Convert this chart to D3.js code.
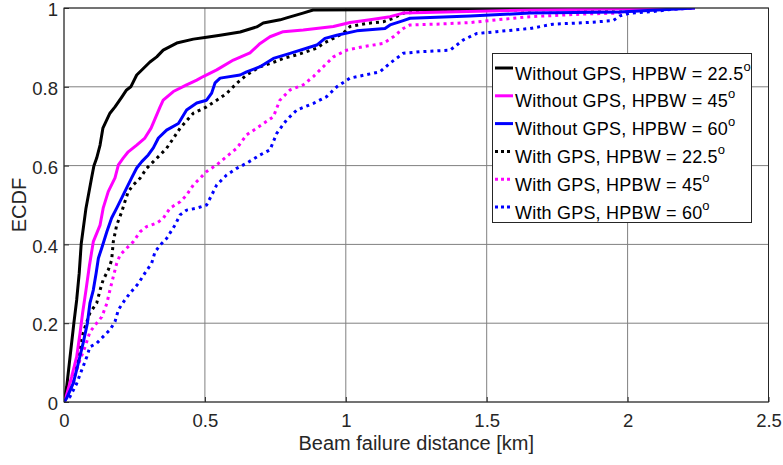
<!DOCTYPE html>
<html>
<head>
<meta charset="utf-8">
<script src="https://cdn.jsdelivr.net/npm/d3@7"></script>
<style>
  body { margin: 0; background: #fff; }
  text { font-family: "Liberation Sans", Arial, sans-serif; }
</style>
</head>
<body>
<div id="chart"></div>
<script>
// ECDF points, [distance km, F(x)]
var noGps225 = [[0, 0], [0.0096, 0.039], [0.035, 0.2], [0.045, 0.259], [0.054, 0.327], [0.061, 0.401],
  [0.078, 0.492], [0.098, 0.569], [0.106, 0.599], [0.116, 0.619], [0.128, 0.652], [0.138, 0.695],
  [0.163, 0.733], [0.181, 0.749], [0.205, 0.774], [0.222, 0.792], [0.237, 0.8], [0.258, 0.83],
  [0.305, 0.863], [0.329, 0.876], [0.352, 0.893], [0.4, 0.911], [0.459, 0.921], [0.506, 0.926],
  [0.554, 0.931], [0.625, 0.939], [0.684, 0.952], [0.707, 0.962], [0.767, 0.97], [0.79, 0.975],
  [0.848, 0.987], [0.884, 0.995], [1.5, 0.997], [2.08, 1.0]]

var noGps45 = [[0, 0], [0.004, 0.005], [0.027, 0.064], [0.045, 0.115], [0.057, 0.175], [0.066, 0.226],
  [0.078, 0.284], [0.09, 0.345], [0.104, 0.407], [0.128, 0.449], [0.139, 0.492], [0.157, 0.534],
  [0.181, 0.569], [0.193, 0.602], [0.21, 0.619], [0.228, 0.635], [0.258, 0.652], [0.287, 0.67],
  [0.309, 0.695], [0.341, 0.749], [0.352, 0.766], [0.388, 0.788], [0.435, 0.805], [0.471, 0.817],
  [0.494, 0.826], [0.542, 0.843], [0.601, 0.868], [0.66, 0.886], [0.696, 0.91], [0.731, 0.927],
  [0.778, 0.94], [0.849, 0.944], [0.956, 0.953], [1.015, 0.963], [1.086, 0.97], [1.157, 0.978],
  [1.204, 0.987], [1.654, 0.995], [2.239, 1.0]]

var noGps60 = [[0, 0], [0.0096, 0.01], [0.033, 0.048], [0.051, 0.099], [0.068, 0.15], [0.083, 0.2],
  [0.092, 0.251], [0.104, 0.284], [0.114, 0.327], [0.122, 0.365], [0.134, 0.391], [0.152, 0.432],
  [0.169, 0.467], [0.187, 0.492], [0.205, 0.518], [0.222, 0.543], [0.24, 0.569], [0.258, 0.594],
  [0.276, 0.61], [0.299, 0.627], [0.317, 0.645], [0.335, 0.67], [0.364, 0.69], [0.406, 0.707],
  [0.435, 0.741], [0.471, 0.759], [0.506, 0.766], [0.524, 0.784], [0.536, 0.81], [0.554, 0.822],
  [0.625, 0.83], [0.648, 0.838], [0.696, 0.851], [0.743, 0.872], [0.802, 0.885], [0.897, 0.906],
  [0.926, 0.923], [0.968, 0.931], [1.039, 0.942], [1.139, 0.948], [1.157, 0.957], [1.204, 0.968],
  [1.228, 0.974], [1.441, 0.98], [1.654, 0.987], [1.973, 0.99], [2.239, 1.0]]

var gps225 = [[0, 0], [0.0096, 0.013], [0.033, 0.048], [0.048, 0.1], [0.057, 0.15], [0.075, 0.191],
  [0.092, 0.226], [0.116, 0.251], [0.128, 0.284], [0.139, 0.31], [0.157, 0.335], [0.169, 0.36],
  [0.175, 0.407], [0.187, 0.449], [0.205, 0.483], [0.216, 0.508], [0.228, 0.534], [0.246, 0.551],
  [0.27, 0.568], [0.293, 0.593], [0.317, 0.61], [0.341, 0.627], [0.364, 0.644], [0.388, 0.669],
  [0.412, 0.695], [0.459, 0.733], [0.506, 0.749], [0.542, 0.766], [0.577, 0.783], [0.613, 0.809],
  [0.648, 0.83], [0.696, 0.851], [0.743, 0.862], [0.778, 0.872], [0.826, 0.881], [0.897, 0.898],
  [0.92, 0.91], [0.956, 0.923], [0.991, 0.936], [1.015, 0.953], [1.074, 0.961], [1.133, 0.965],
  [1.169, 0.974], [1.204, 0.987], [1.323, 0.993], [2.08, 0.998], [2.08, 1.0]]

var gps45 = [[0, 0], [0.0096, 0.013], [0.033, 0.056], [0.057, 0.107], [0.075, 0.14], [0.092, 0.178],
  [0.116, 0.2], [0.134, 0.216], [0.152, 0.25], [0.163, 0.284], [0.175, 0.318], [0.187, 0.352],
  [0.199, 0.373], [0.222, 0.39], [0.246, 0.407], [0.27, 0.432], [0.293, 0.445], [0.329, 0.454],
  [0.352, 0.466], [0.376, 0.492], [0.412, 0.508], [0.435, 0.525], [0.459, 0.551], [0.483, 0.568],
  [0.506, 0.585], [0.542, 0.602], [0.577, 0.623], [0.613, 0.644], [0.648, 0.678], [0.684, 0.695],
  [0.743, 0.724], [0.766, 0.766], [0.802, 0.792], [0.849, 0.805], [0.885, 0.826], [0.92, 0.851],
  [0.956, 0.876], [1.003, 0.893], [1.062, 0.902], [1.133, 0.91], [1.169, 0.927], [1.204, 0.948],
  [1.228, 0.957], [1.323, 0.959], [1.441, 0.963], [1.535, 0.97], [1.654, 0.978], [1.855, 0.985],
  [1.961, 0.987], [1.997, 0.991], [2.09, 0.995], [2.239, 1.0]]

var gps60 = [[0, 0], [0.004, 0.005], [0.021, 0.013], [0.045, 0.047], [0.063, 0.081], [0.081, 0.115],
  [0.092, 0.14], [0.116, 0.149], [0.139, 0.166], [0.163, 0.183], [0.181, 0.204], [0.193, 0.234],
  [0.216, 0.259], [0.234, 0.276], [0.264, 0.301], [0.287, 0.327], [0.311, 0.352], [0.323, 0.381],
  [0.341, 0.398], [0.364, 0.415], [0.394, 0.449], [0.412, 0.475], [0.435, 0.487], [0.471, 0.492],
  [0.506, 0.5], [0.524, 0.525], [0.542, 0.551], [0.577, 0.576], [0.613, 0.593], [0.648, 0.606],
  [0.696, 0.627], [0.731, 0.64], [0.755, 0.682], [0.79, 0.716], [0.826, 0.741], [0.885, 0.758],
  [0.932, 0.775], [0.968, 0.8], [1.015, 0.822], [1.121, 0.838], [1.157, 0.86], [1.204, 0.885],
  [1.263, 0.889], [1.37, 0.893], [1.417, 0.919], [1.464, 0.935], [1.535, 0.94], [1.654, 0.948],
  [1.736, 0.959], [1.855, 0.963], [1.949, 0.968], [1.973, 0.98], [2.008, 0.987], [2.091, 0.991],
  [2.162, 0.997], [2.239, 1.0]]

var seriesNames = ['Without GPS, HPBW = 22.5', 'Without GPS, HPBW = 45', 'Without GPS, HPBW = 60',
  'With GPS, HPBW = 22.5', 'With GPS, HPBW = 45', 'With GPS, HPBW = 60']
var seriesData = [noGps225, noGps45, noGps60, gps225, gps45, gps60]
var seriesColors = ['#000000', '#ff00ff', '#0000ff', '#000000', '#ff00ff', '#0000ff']
var seriesDotted = [false, false, false, true, true, true]

var xTicks = [0, 0.5, 1, 1.5, 2, 2.5]
var yTicks = [0, 0.2, 0.4, 0.6, 0.8, 1]

// chart frame
var W = 783
var H = 465
var margin = { top: 8, right: 14.5, bottom: 63, left: 64 }
var width = W - margin.left - margin.right
var height = H - margin.top - margin.bottom

var svg = d3.select('#chart').append('svg')
  .attr('width', W)
  .attr('height', H)

var g = svg.append('g')
  .attr('transform', 'translate(' + margin.left + ',' + margin.top + ')')

var x = d3.scaleLinear().domain([0, 2.5]).range([0, width])
var y = d3.scaleLinear().domain([0, 1]).range([height, 0])

// grid
g.selectAll('.vgrid').data(xTicks).enter().append('line')
  .attr('x1', d => x(d)).attr('x2', d => x(d))
  .attr('y1', 0).attr('y2', height)
  .attr('stroke', '#808080').attr('stroke-width', 1)
g.selectAll('.hgrid').data(yTicks).enter().append('line')
  .attr('x1', 0).attr('x2', width)
  .attr('y1', d => y(d)).attr('y2', d => y(d))
  .attr('stroke', '#808080').attr('stroke-width', 1)

// axes with inward ticks
var xAxis = g.append('g')
  .attr('transform', 'translate(0,' + height + ')')
  .call(d3.axisBottom(x).tickValues(xTicks).tickSize(-5).tickPadding(12).tickFormat(d3.format('')))
var yAxis = g.append('g')
  .call(d3.axisLeft(y).tickValues(yTicks).tickSize(-5).tickPadding(6).tickFormat(d3.format('')))

;[xAxis, yAxis].forEach(function (a) {
  a.select('.domain').remove()
  a.selectAll('line').attr('stroke', '#262626')
  a.selectAll('text').attr('fill', '#262626').style('font-size', '18.5px')
    .style('font-family', '"Liberation Sans", Arial, sans-serif')
})
// labels sit a touch below their tick, so the top "1" stays inside the page
yAxis.selectAll('text').attr('dy', '0.42em')

g.append('clipPath').attr('id', 'clip').append('rect')
  .attr('width', width).attr('height', height)

var line = d3.line().x(d => x(d[0])).y(d => y(d[1]))

var plot = g.append('g').attr('clip-path', 'url(#clip)')
// draw solid ones last so they sit on top like the reference
var order = [3, 4, 5, 0, 1, 2]
order.forEach(function (i) {
  plot.append('path')
    .datum(seriesData[i])
    .attr('d', line)
    .attr('fill', 'none')
    .attr('stroke', seriesColors[i])
    .attr('stroke-width', 3)
    .attr('stroke-linejoin', 'round')
    .attr('stroke-dasharray', seriesDotted[i] ? '3,4' : null)
})

// box
g.append('rect')
  .attr('width', width).attr('height', height)
  .attr('fill', 'none').attr('stroke', '#262626').attr('stroke-width', 1)

// axis labels
svg.append('text')
  .attr('x', margin.left + width / 2)
  .attr('y', 450)
  .attr('text-anchor', 'middle')
  .attr('fill', '#262626')
  .style('font-size', '20px')
  .text('Beam failure distance [km]')

svg.append('text')
  .attr('transform', 'translate(26,' + (margin.top + height / 2) + ') rotate(-90)')
  .attr('text-anchor', 'middle')
  .attr('fill', '#262626')
  .style('font-size', '20px')
  .text('ECDF')

// legend
var legend = svg.append('g')
legend.append('rect')
  .attr('x', 492.5).attr('y', 53.5)
  .attr('width', 259).attr('height', 169)
  .attr('fill', '#fff').attr('stroke', '#262626').attr('stroke-width', 1)

seriesNames.forEach(function (name, i) {
  var cy = 73 + i * 27.8
  legend.append('line')
    .attr('x1', 495).attr('x2', 513)
    .attr('y1', cy - 5).attr('y2', cy - 5)
    .attr('stroke', seriesColors[i])
    .attr('stroke-width', 3)
    .attr('stroke-dasharray', seriesDotted[i] ? '3,3' : null)
  var t = legend.append('text')
    .attr('x', 515).attr('y', cy + 6.5)
    .attr('fill', '#000')
    .style('font-size', '18px')
    .style('letter-spacing', '0.2px')
  t.append('tspan').text(name)
  t.append('tspan').attr('dy', -9).style('font-size', '13px').text('o')
})
</script>
</body>
</html>
